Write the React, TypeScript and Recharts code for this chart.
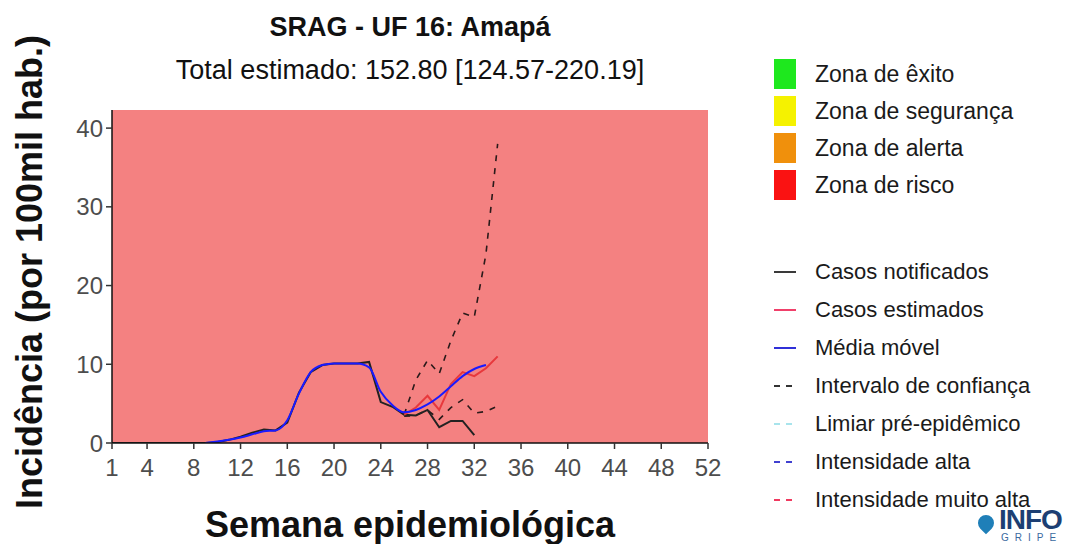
import React from "react";
import {
  ComposedChart,
  Line,
  ReferenceArea,
  XAxis,
  YAxis,
} from "recharts";

// epidemiological weeks with data
const WEEKS = [
  1, 2, 3, 4, 5, 6, 7, 8, 9, 10, 11, 12, 13, 14, 15, 16, 17,
  18, 19, 20, 21, 22, 23, 24, 25, 26, 27, 28, 29, 30, 31, 32, 33, 34,
];

// casos notificados (weeks 1-32)
const NOTIFIED = [
  0, 0, 0, 0, 0, 0, 0, 0, 0, 0.1, 0.4, 0.8, 1.3, 1.7, 1.6, 2.6, 6.4,
  9.0, 9.9, 10.1, 10.1, 10.1, 10.3, 5.2, 4.6, 3.6, 3.5, 4.2, 2.0, 2.8, 2.8, 1.0,
  null, null,
];

// média móvel (weeks 9-33)
const MOVING_AVG = [
  null, null, null, null, null, null, null, null, 0, 0.2, 0.4, 0.7, 1.1, 1.5, 1.6, 2.9, 6.3,
  9.0, 9.9, 10.1, 10.1, 10.1, 9.6, 6.5, 4.8, 3.9, 4.2, 4.9, 5.9, 7.2, 8.5, 9.4, 9.9,
  null,
];

// casos estimados (weeks 26-34)
const ESTIMATED = [
  null, null, null, null, null, null, null, null, null, null, null, null, null, null, null, null, null,
  null, null, null, null, null, null, null, null, 3.6, 4.5, 6.0, 4.2, 7.5, 9.0, 8.5, 9.5, 11.0,
];

// intervalo de confiança
const CI_UPPER = [
  null, null, null, null, null, null, null, null, null, null, null, null, null, null, null, null, null,
  null, null, null, null, null, null, null, null, 3.6, 8.0, 10.5, 8.8, 13.0, 16.5, 16.0, 24.0, 38.0,
];
const CI_LOWER = [
  null, null, null, null, null, null, null, null, null, null, null, null, null, null, null, null, null,
  null, null, null, null, null, null, null, null, 3.4, 3.5, 4.2, 3.0, 4.5, 5.5, 3.8, 4.0, 4.7,
];

const X_TICKS = [1, 4, 8, 12, 16, 20, 24, 28, 32, 36, 40, 44, 48, 52];
const Y_TICKS = [0, 10, 20, 30, 40];
const Y_MAX = 42.3;

const ZONES = [
  { label: "Zona de êxito", color: "#1ee81e" },
  { label: "Zona de segurança", color: "#f5f200" },
  { label: "Zona de alerta", color: "#f0900c" },
  { label: "Zona de risco", color: "#fa1212" },
];

const LINE_KEYS = [
  { label: "Casos notificados", color: "#3a3a3a", dash: false },
  { label: "Casos estimados", color: "#f0406a", dash: false },
  { label: "Média móvel", color: "#3030d8", dash: false },
  { label: "Intervalo de confiança", color: "#333333", dash: true },
  { label: "Limiar pré-epidêmico", color: "#a8e4ec", dash: true },
  { label: "Intensidade alta", color: "#4040d0", dash: true },
  { label: "Intensidade muito alta", color: "#f03a60", dash: true },
];

const data = WEEKS.map((w, i) => ({
  week: w,
  notified: NOTIFIED[i],
  avg: MOVING_AVG[i],
  estimated: ESTIMATED[i],
  upper: CI_UPPER[i],
  lower: CI_LOWER[i],
}));

const FONT = "'Liberation Sans', Arial, Helvetica, sans-serif";
const tickStyle = { fontSize: 24, fill: "#4d4d4d", fontFamily: FONT };

export default function App() {
  return (
    <div
      style={{
        position: "absolute",
        left: 0,
        top: 0,
        width: 1076,
        height: 544,
        background: "#ffffff",
        fontFamily: FONT,
        overflow: "hidden",
      }}
    >
      <ComposedChart
        width={740}
        height={544}
        data={data}
        margin={{ top: 110, right: 32, bottom: 71, left: 0 }}
      >
        <ReferenceArea
          x1={1}
          x2={52}
          y1={0}
          y2={Y_MAX}
          fill="#f48181"
          fillOpacity={1}
          stroke="none"
          ifOverflow="hidden"
        />
        <XAxis
          type="number"
          dataKey="week"
          domain={[1, 52]}
          ticks={X_TICKS}
          interval={0}
          height={30}
          tick={tickStyle}
          tickSize={6}
          tickMargin={10}
          stroke="#111"
          strokeWidth={1.5}
          tickLine={{ stroke: "#333", strokeWidth: 1.5 }}
        />
        <YAxis
          type="number"
          domain={[0, Y_MAX]}
          ticks={Y_TICKS}
          allowDataOverflow
          width={112}
          tick={tickStyle}
          tickSize={6}
          tickMargin={3}
          stroke="#111"
          strokeWidth={1.5}
          tickLine={{ stroke: "#333", strokeWidth: 1.5 }}
        />
        <Line
          dataKey="upper"
          stroke="#2a1a1a"
          strokeWidth={1.6}
          strokeDasharray="6 7"
          dot={false}
          isAnimationActive={false}
        />
        <Line
          dataKey="lower"
          stroke="#2a1a1a"
          strokeWidth={1.6}
          strokeDasharray="6 7"
          dot={false}
          isAnimationActive={false}
        />
        <Line
          dataKey="notified"
          stroke="#222222"
          strokeWidth={2}
          dot={false}
          isAnimationActive={false}
        />
        <Line
          dataKey="estimated"
          stroke="#e8383c"
          strokeWidth={2}
          dot={false}
          isAnimationActive={false}
        />
        <Line
          type="monotone"
          dataKey="avg"
          stroke="#1a1aff"
          strokeWidth={2}
          dot={false}
          isAnimationActive={false}
        />
      </ComposedChart>

      {/* titles */}
      <div
        style={{
          position: "absolute",
          left: 110,
          width: 600,
          top: 12,
          textAlign: "center",
          fontSize: 27,
          fontWeight: "bold",
          color: "#111",
        }}
      >
        SRAG - UF 16: Amapá
      </div>
      <div
        style={{
          position: "absolute",
          left: 60,
          width: 700,
          top: 55,
          textAlign: "center",
          fontSize: 27,
          color: "#111",
        }}
      >
        Total estimado: 152.80 [124.57-220.19]
      </div>

      {/* axis titles */}
      <div
        style={{
          position: "absolute",
          left: 110,
          width: 600,
          top: 504,
          textAlign: "center",
          fontSize: 36,
          fontWeight: "bold",
          color: "#111",
          whiteSpace: "nowrap",
        }}
      >
        Semana epidemiológica
      </div>
      <div
        style={{
          position: "absolute",
          left: 30,
          top: 272,
          transform: "translate(-50%, -50%) rotate(-90deg)",
          fontSize: 36,
          fontWeight: "bold",
          color: "#111",
          whiteSpace: "nowrap",
        }}
      >
        Incidência (por 100mil hab.)
      </div>

      {/* legend: zones */}
      {ZONES.map((z, i) => (
        <div
          key={z.label}
          style={{
            position: "absolute",
            left: 774,
            top: 58 + i * 37,
            height: 32,
            display: "flex",
            alignItems: "center",
          }}
        >
          <div style={{ width: 22, height: 30, background: z.color }} />
          <span style={{ marginLeft: 19, fontSize: 23, color: "#1a1a1a" }}>
            {z.label}
          </span>
        </div>
      ))}

      {/* legend: lines */}
      {LINE_KEYS.map((k, i) => (
        <div
          key={k.label}
          style={{
            position: "absolute",
            left: 774,
            top: 256 + i * 38,
            height: 32,
            display: "flex",
            alignItems: "center",
          }}
        >
          <svg width={22} height={6}>
            <line
              x1={0}
              x2={22}
              y1={3}
              y2={3}
              stroke={k.color}
              strokeWidth={2}
              strokeDasharray={k.dash ? "6 6" : undefined}
            />
          </svg>
          <span style={{ marginLeft: 19, fontSize: 22, color: "#1a1a1a", whiteSpace: "nowrap" }}>
            {k.label}
          </span>
        </div>
      ))}

      {/* logo */}
      <div style={{ position: "absolute", left: 972, top: 506, width: 104, height: 38 }}>
        <div
          style={{
            position: "absolute",
            left: 6,
            top: 9,
            width: 16,
            height: 16,
            background: "#1f7fb8",
            borderRadius: "50% 50% 50% 0",
            transform: "rotate(-45deg)",
          }}
        />
        <div
          style={{
            position: "absolute",
            left: 27,
            top: 0,
            fontSize: 28,
            lineHeight: "28px",
            fontWeight: "bold",
            color: "#1d3f73",
            letterSpacing: -1,
          }}
        >
          INFO
        </div>
        <div
          style={{
            position: "absolute",
            left: 29,
            top: 27,
            fontSize: 10,
            lineHeight: "10px",
            color: "#3a6aa0",
            letterSpacing: 6,
          }}
        >
          GRIPE
        </div>
      </div>
    </div>
  );
}
